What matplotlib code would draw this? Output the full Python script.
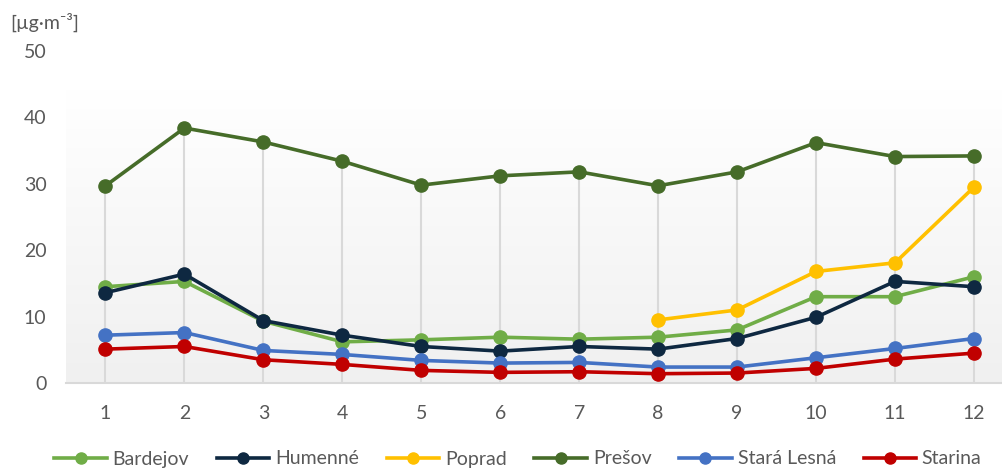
import numpy as np
import matplotlib.pyplot as plt
from matplotlib.lines import Line2D

plt.rcParams['font.family'] = ['Lato', 'DejaVu Sans']

months = list(range(1, 13))
bardejov = [14.5, 15.3, 9.3, 6.2, 6.5, 6.9, 6.6, 6.9, 8.0, 13.0, 13.0, 16.0]
humenne = [13.6, 16.4, 9.4, 7.2, 5.5, 4.8, 5.5, 5.1, 6.7, 9.9, 15.3, 14.5]
poprad = [None, None, None, None, None, None, None, 9.5, 11.0, 16.8, 18.1, 29.5]
presov = [29.7, 38.4, 36.3, 33.4, 29.8, 31.2, 31.8, 29.7, 31.8, 36.2, 34.1, 34.2]
stara_lesna = [7.2, 7.6, 4.9, 4.3, 3.4, 3.0, 3.1, 2.4, 2.4, 3.8, 5.2, 6.7]
starina = [5.1, 5.5, 3.5, 2.8, 1.9, 1.6, 1.7, 1.4, 1.5, 2.2, 3.6, 4.5]

names = ['Bardejov', 'Humenné', 'Poprad', 'Prešov', 'Stará Lesná', 'Starina']
series = [bardejov, humenne, poprad, presov, stara_lesna, starina]
colors = ['#70ad47', '#0e2841', '#ffc000', '#466c29', '#4472c4', '#c00000']

fig = plt.figure(figsize=(10.02, 4.68), dpi=100)
ax = fig.add_axes([66 / 1002, 85 / 468, 936 / 1002, 332 / 468])
ax.set_xlim(0.5, 12.355)
ax.set_ylim(0, 50)

# gradient plot area (white on top -> light gray at bottom)
grad_top = (383 - 90) / 6.64
grad = np.linspace(1, 0, 256).reshape(-1, 1)
ax.imshow(grad, extent=[0.5, 12.355, 0, grad_top], aspect='auto',
          cmap=plt.matplotlib.colors.LinearSegmentedColormap.from_list('g', ['#f0f0f0', '#ffffff']),
          zorder=0)

# drop lines from highest value
tops = [max(v for v in col if v is not None) for col in zip(*series)]
ax.vlines(months, 0, tops, color='#d9d9d9', lw=1.5, zorder=1)

for name, vals, c in zip(names, series, colors):
    y = np.array([np.nan if v is None else v for v in vals])
    ax.plot(months, y, color=c, lw=2.6, marker='o', ms=9.5, zorder=3, label=name)

for s in ['top', 'right', 'left']:
    ax.spines[s].set_visible(False)
ax.spines['bottom'].set_color('#d9d9d9')
ax.spines['bottom'].set_linewidth(1.5)
ax.spines['bottom'].set_zorder(2)

ax.set_xticks(months)
ax.set_yticks([0, 10, 20, 30, 40, 50])
ax.tick_params(axis='both', length=0, labelsize=14, colors='#595959')
ax.tick_params(axis='x', pad=16)
ax.tick_params(axis='y', pad=14)

fig.text(10 / 1002, 1 - 22 / 468, '[µg·m⁻³]', fontsize=14, color='#595959', va='center')

handles = [Line2D([0], [0], color=c, lw=2.6, marker='o', ms=8) for c in colors]
fig.legend(handles, names, loc='center', bbox_to_anchor=(518 / 1002, 1 - 459 / 468),
           ncol=6, frameon=False, fontsize=14, labelcolor='#595959',
           handlelength=2.7, handletextpad=0.3, columnspacing=1.42)

fig.savefig('out.png', dpi=100)
